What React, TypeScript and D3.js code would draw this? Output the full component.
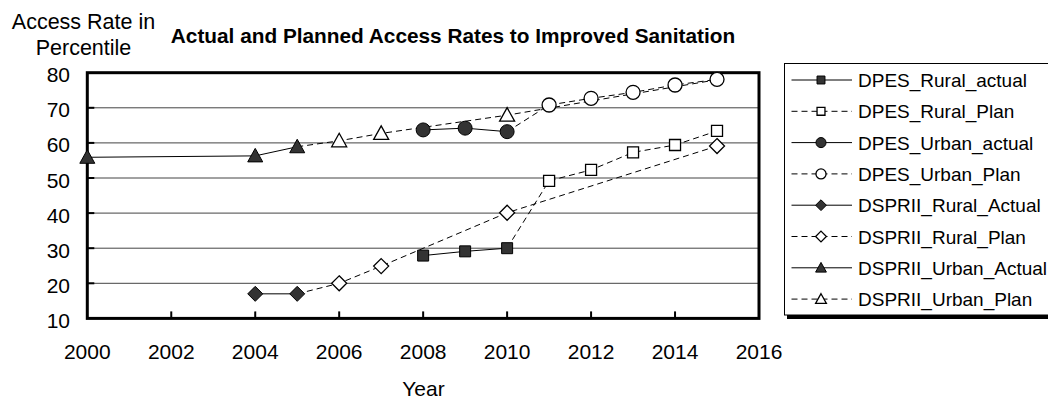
import React from 'react';
import * as d3 from 'd3';

// ---- data ----
const xTicks = [2000, 2002, 2004, 2006, 2008, 2010, 2012, 2014, 2016];
const yTicks = [10, 20, 30, 40, 50, 60, 70, 80];

const dpesRuralActualYears = [2008, 2009, 2010];
const dpesRuralActual = [27.9, 29.1, 30.0];

const dpesRuralPlanYears = [2010, 2011, 2012, 2013, 2014, 2015];
const dpesRuralPlan = [30.0, 49.2, 52.3, 57.3, 59.4, 63.4];

const dpesUrbanActualYears = [2008, 2009, 2010];
const dpesUrbanActual = [63.7, 64.2, 63.2];

const dpesUrbanPlanYears = [2010, 2011, 2012, 2013, 2014, 2015];
const dpesUrbanPlan = [63.2, 70.8, 72.7, 74.4, 76.5, 78.1];

const dspriiRuralActualYears = [2004, 2005];
const dspriiRuralActual = [17.0, 17.0];

const dspriiRuralPlanYears = [2005, 2006, 2007, 2010, 2015];
const dspriiRuralPlan = [17.0, 20.0, 24.9, 40.1, 59.1];

const dspriiUrbanActualYears = [2000, 2004, 2005];
const dspriiUrbanActual = [55.9, 56.3, 58.9];

const dspriiUrbanPlanYears = [2005, 2006, 2007, 2010, 2015];
const dspriiUrbanPlan = [58.9, 60.6, 62.7, 67.9, 78.0];

type Shape = 'square' | 'circle' | 'diamond' | 'triangle';
interface Series {
  name: string;
  years: number[];
  values: number[];
  shape: Shape;
  filled: boolean;
  dashed: boolean;
}

// legend order
const series: Series[] = [
  { name: 'DPES_Rural_actual', years: dpesRuralActualYears, values: dpesRuralActual, shape: 'square', filled: true, dashed: false },
  { name: 'DPES_Rural_Plan', years: dpesRuralPlanYears, values: dpesRuralPlan, shape: 'square', filled: false, dashed: true },
  { name: 'DPES_Urban_actual', years: dpesUrbanActualYears, values: dpesUrbanActual, shape: 'circle', filled: true, dashed: false },
  { name: 'DPES_Urban_Plan', years: dpesUrbanPlanYears, values: dpesUrbanPlan, shape: 'circle', filled: false, dashed: true },
  { name: 'DSPRII_Rural_Actual', years: dspriiRuralActualYears, values: dspriiRuralActual, shape: 'diamond', filled: true, dashed: false },
  { name: 'DSPRII_Rural_Plan', years: dspriiRuralPlanYears, values: dspriiRuralPlan, shape: 'diamond', filled: false, dashed: true },
  { name: 'DSPRII_Urban_Actual', years: dspriiUrbanActualYears, values: dspriiUrbanActual, shape: 'triangle', filled: true, dashed: false },
  { name: 'DSPRII_Urban_Plan', years: dspriiUrbanPlanYears, values: dspriiUrbanPlan, shape: 'triangle', filled: false, dashed: true },
];

// paint order: plan series underneath, actual series on top
const drawOrder = [7, 5, 3, 1, 6, 4, 2, 0].map((i) => series[i]);

const W = 1048;
const H = 399;
const FONT = '"Liberation Sans", Arial, sans-serif';
const DARK = '#333333';

const x = d3.scaleLinear().domain([2000, 2016]).range([87.3, 759]);
const y = d3.scaleLinear().domain([10, 80]).range([318.4, 72.7]);

function Marker({ shape, filled, cx, cy, k = 1 }: { shape: Shape; filled: boolean; cx: number; cy: number; k?: number }) {
  const fill = filled ? DARK : '#ffffff';
  const stroke = '#000';
  const sw = filled ? 1 : 1.3;
  if (shape === 'circle') return <circle cx={cx} cy={cy} r={7 * k} fill={fill} stroke={stroke} strokeWidth={sw} />;
  let d = '';
  if (shape === 'square') {
    const s = 5.5 * k;
    d = `M${-s},${-s}H${s}V${s}H${-s}Z`;
  } else if (shape === 'diamond') {
    const s = 7.5 * k;
    d = `M0,${-s}L${s},0L0,${s}L${-s},0Z`;
  } else {
    d = `M0,${-7.5 * k}L${7.5 * k},${6 * k}L${-7.5 * k},${6 * k}Z`;
  }
  return <path d={d} transform={`translate(${cx},${cy})`} fill={fill} stroke={stroke} strokeWidth={sw} strokeLinejoin="miter" />;
}

export default function App() {
  const line = d3
    .line<[number, number]>()
    .x((d) => x(d[0]))
    .y((d) => y(d[1]));

  // a marker hidden by a marker of a later-painted series at the same spot is not drawn
  const covered = (si: number, year: number, v: number) =>
    drawOrder.slice(si + 1).some((s) => s.years.some((yr, j) => yr === year && Math.abs(s.values[j] - v) < 1));

  const legendTop = 80;
  const legendStep = 31.3;

  return (
    <svg width={W} height={H} style={{ position: 'absolute', left: 0, top: 0, background: '#fff' }} fontFamily={FONT}>
      <rect x={0} y={0} width={W} height={H} fill="#fff" />

      {/* gridlines */}
      {yTicks.slice(1, -1).map((t) => (
        <line key={t} x1={x(2000)} x2={x(2016)} y1={y(t)} y2={y(t)} stroke="#444" strokeWidth={1} />
      ))}

      {/* series lines */}
      {drawOrder.map((s) => (
        <path
          key={s.name + '-line'}
          d={line(s.years.map((yr, i) => [yr, s.values[i]] as [number, number])) || ''}
          fill="none"
          stroke="#000"
          strokeWidth={1}
          strokeDasharray={s.dashed ? '6,4' : undefined}
        />
      ))}

      {/* plot frame */}
      <rect x={x(2000)} y={y(80)} width={x(2016) - x(2000)} height={y(10) - y(80)} fill="none" stroke="#000" strokeWidth={3} />

      {/* ticks */}
      {xTicks.slice(1, -1).map((t) => (
        <line key={'xt' + t} x1={x(t)} x2={x(t)} y1={y(10)} y2={y(10) - 7} stroke="#000" strokeWidth={2} />
      ))}
      {yTicks.slice(1, -1).map((t) => (
        <line key={'yt' + t} x1={x(2000) - 1} x2={x(2000) + 7} y1={y(t)} y2={y(t)} stroke="#000" strokeWidth={2} />
      ))}

      {/* markers */}
      {drawOrder.map((s, si) =>
        s.years.map((yr, i) =>
          covered(si, yr, s.values[i]) ? null : (
            <Marker key={s.name + yr} shape={s.shape} filled={s.filled} cx={x(yr)} cy={y(s.values[i])} />
          )
        )
      )}

      {/* tick labels */}
      {yTicks.map((t) => (
        <text key={'yl' + t} x={70} y={y(t) + 9.5} fontSize={21} textAnchor="end" fill="#000">
          {t}
        </text>
      ))}
      {xTicks.map((t) => (
        <text key={'xl' + t} x={x(t)} y={359} fontSize={21} textAnchor="middle" fill="#000">
          {t}
        </text>
      ))}

      {/* titles */}
      <text x={453} y={43} fontSize={20.8} fontWeight="bold" textAnchor="middle" fill="#000">
        Actual and Planned Access Rates to Improved Sanitation
      </text>
      <text x={83.5} y={28.5} fontSize={21.5} textAnchor="middle" fill="#000">
        Access Rate in
      </text>
      <text x={83.5} y={55} fontSize={21.5} textAnchor="middle" fill="#000">
        Percentile
      </text>
      <text x={423.5} y={396} fontSize={21} textAnchor="middle" fill="#000">
        Year
      </text>

      {/* legend */}
      <rect x={787} y={315} width={300} height={4} fill="#000" />
      <rect x={784.5} y={63.5} width={300} height={251.5} fill="#fff" stroke="#000" strokeWidth={1} />
      {series.map((s, i) => {
        const cy = legendTop + i * legendStep;
        return (
          <g key={s.name + '-legend'}>
            <line x1={791.5} x2={852} y1={cy} y2={cy} stroke="#000" strokeWidth={1} strokeDasharray={s.dashed ? '6,4' : undefined} />
            <Marker shape={s.shape} filled={s.filled} cx={821} cy={cy} k={0.72} />
            <text x={858} y={cy + 7} fontSize={19} fill="#000">
              {s.name}
            </text>
          </g>
        );
      })}
    </svg>
  );
}
